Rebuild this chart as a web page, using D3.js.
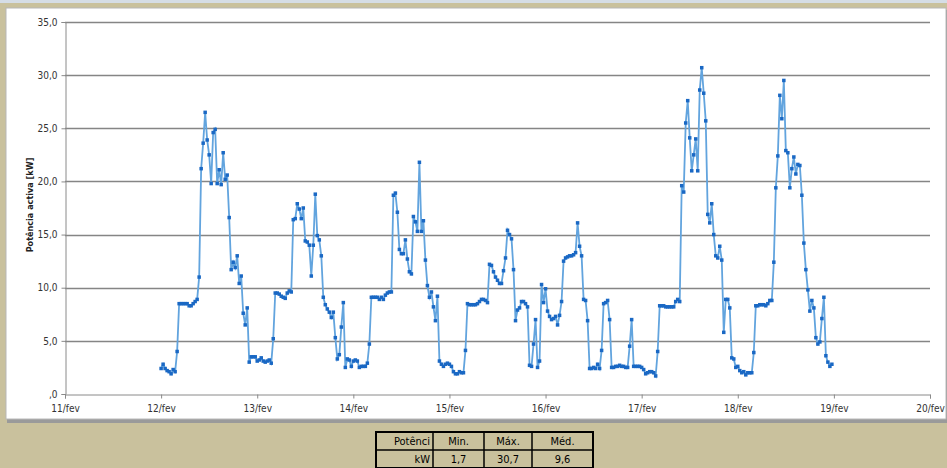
<!DOCTYPE html>
<html>
<head>
<meta charset="utf-8">
<script src="https://cdn.jsdelivr.net/npm/d3@7"></script>
<style>
  body { margin: 0; background: #c9c19d; overflow: hidden; }
  svg { display: block; }
</style>
</head>
<body>
<div id="chart-div"></div>
<script>
// readings every 30 min, one array per day (kW)
const day12 = [2.4,2.8,2.4,2.2,2.1,1.9,2.3,2.1,4.0,8.5,8.5,8.5,8.5,8.5,8.3,8.3,8.5,8.7,8.9,11.0,21.2,23.6,26.5,23.9,22.5,19.8,24.6,24.9,19.8,21.1,19.7,22.7,20.2,20.6,16.6,11.7,12.4,11.9,13.0,10.4,11.1,7.6,6.5,8.1,3.0,3.5,3.5,3.5]
const day13 = [3.1,3.2,3.4,3.1,3.0,3.1,3.2,2.9,5.2,9.5,9.5,9.4,9.2,9.1,9.0,9.5,9.7,9.6,16.4,16.5,17.9,17.4,16.5,17.5,14.4,14.3,14.0,11.1,14.0,18.8,14.9,14.5,13.0,9.1,8.4,8.0,7.7,7.2,7.7,5.3,3.3,3.7,6.3,8.6,2.5,3.3,3.2,2.6]
const day14 = [3.1,3.2,3.1,2.5,2.6,2.6,2.6,2.9,4.7,9.1,9.1,9.1,9.1,8.9,9.1,8.9,9.3,9.5,9.6,9.6,18.7,18.9,17.1,13.6,13.2,13.2,14.5,12.7,11.5,11.3,16.7,16.2,15.3,21.8,15.3,16.3,12.6,10.2,9.1,9.6,8.2,6.9,9.2,3.1,2.8,2.6,2.8,2.9]
const day15 = [2.8,2.6,2.1,1.9,1.9,2.1,2.0,2.0,4.1,8.5,8.4,8.4,8.4,8.4,8.5,8.7,8.9,8.9,8.8,8.6,12.2,12.1,11.5,11.0,10.7,10.4,10.4,11.6,12.8,15.4,15.0,14.6,11.7,6.9,7.9,8.1,8.7,8.7,8.5,8.2,2.7,2.6,4.7,7.0,2.5,3.1,10.3,8.6]
const day16 = [9.9,7.8,7.3,7.0,7.1,7.3,6.5,7.4,8.7,12.5,12.8,12.9,13.0,13.0,13.1,13.3,16.1,13.9,13.0,8.9,8.8,6.9,2.4,2.4,2.5,2.4,2.8,2.4,4.1,8.5,8.6,8.8,7.0,2.5,2.5,2.6,2.6,2.7,2.6,2.6,2.5,2.5,4.5,7.0,2.6,2.6,2.6,2.6]
const day17 = [2.5,2.3,1.9,2.0,2.1,2.1,2.0,1.7,4.0,8.3,8.3,8.3,8.2,8.2,8.2,8.2,8.2,8.7,8.9,8.7,19.6,19.0,25.5,27.6,24.1,21.0,22.5,24.0,21.0,28.6,30.7,28.3,25.7,16.9,16.1,17.9,15.0,13.0,12.8,13.9,12.6,5.8,8.9,8.9,8.1,3.4,3.3,2.5]
const day18 = [2.6,2.2,2.0,2.1,1.8,2.0,2.0,2.0,3.9,8.3,8.3,8.4,8.4,8.4,8.3,8.5,8.8,8.8,12.4,19.4,22.4,28.1,25.9,29.5,22.9,22.7,19.4,21.2,22.3,20.7,21.6,21.5,18.7,14.2,11.7,9.8,7.8,8.8,8.1,5.3,4.7,4.9,7.1,9.1,3.6,3.0,2.6,2.8]

const dayLabels = ["11/fev","12/fev","13/fev","14/fev","15/fev","16/fev","17/fev","18/fev","19/fev","20/fev"]
const yTicks = [0,5,10,15,20,25,30,35]

const tableHead = ["Potênci","Min.","Máx.","Méd."]
const tableRow = ["kW","1,7","30,7","9,6"]

class Chart{
    constructor(){
        this.WIDTH = 947
        this.HEIGHT = 468
        this.MARGIN_LEFT = 65
        this.MARGIN_RIGHT = 17
        this.MARGIN_TOP = 22
        this.PLOT_BOTTOM = 394

        this.svg = d3.select("#chart-div").append("svg")
            .attr("width", this.WIDTH)
            .attr("height", this.HEIGHT)

        // flatten days into (day offset, value) points, 11/fev = 0
        const days = [day12, day13, day14, day15, day16, day17, day18]
        this.points = []
        days.forEach((arr, d) => {
            arr.forEach((v, i) => this.points.push({t: 1 + d + i / arr.length, v: v}))
        })

        this.x_scale = d3.scaleLinear().domain([0, dayLabels.length - 1])
            .range([this.MARGIN_LEFT, this.WIDTH - this.MARGIN_RIGHT])
        this.y_scale = d3.scaleLinear().domain([0, 35])
            .range([this.PLOT_BOTTOM, this.MARGIN_TOP])

        this.drawFrame()
        this.drawAxes()
        this.drawLine()
        this.drawTable()
    }

    drawFrame(){
        this.svg.append("rect").attr("x", 0).attr("y", 0).attr("width", this.WIDTH).attr("height", 3)
            .attr("fill", "#d5dde6")
        // chart area with a little shadow underneath
        this.svg.append("rect").attr("x", 7).attr("y", 10).attr("width", 940).attr("height", 413)
            .attr("fill", "#9a9a9a")
        this.svg.append("rect").attr("x", 6).attr("y", 8).attr("width", 940).attr("height", 411)
            .attr("fill", "#ffffff").attr("stroke", "#b8b8b8")
    }

    drawAxes(){
        const that = this
        const grid = this.svg.append("g")
        grid.selectAll("line").data(yTicks.filter(d => d > 0)).enter().append("line")
            .attr("x1", this.MARGIN_LEFT).attr("x2", this.WIDTH - this.MARGIN_RIGHT)
            .attr("y1", d => Math.round(that.y_scale(d)) + 0.5)
            .attr("y2", d => Math.round(that.y_scale(d)) + 0.5)
            .attr("stroke", "#858585").attr("stroke-width", 1.3)

        const fmt = d => d == 0 ? ",0" : d3.format(".1f")(d).replace(".", ",")

        const yAxis = this.svg.append("g")
            .attr("transform", `translate(${this.MARGIN_LEFT + 0.5},0)`)
            .call(d3.axisLeft(this.y_scale).tickValues(yTicks).tickFormat(fmt).tickSize(4).tickPadding(4))
        yAxis.select(".domain").attr("stroke", "#8a8a8a")
        yAxis.selectAll(".tick line").attr("stroke", "#8a8a8a")
        yAxis.selectAll("text").attr("font-family", "DejaVu Sans Condensed, DejaVu Sans").attr("font-size", 10)
            .attr("fill", "#333")

        const xAxis = this.svg.append("g")
            .attr("transform", `translate(0,${this.PLOT_BOTTOM + 0.5})`)
            .call(d3.axisBottom(this.x_scale).tickValues(d3.range(dayLabels.length))
                .tickFormat(i => dayLabels[i]).tickSize(4).tickPadding(6))
        xAxis.select(".domain").attr("stroke", "#8a8a8a")
        xAxis.selectAll(".tick line").attr("stroke", "#8a8a8a")
        xAxis.selectAll("text").attr("font-family", "DejaVu Sans Condensed, DejaVu Sans").attr("font-size", 10)
            .attr("fill", "#333")

        this.svg.append("text")
            .attr("transform", `translate(33,${(this.MARGIN_TOP + this.PLOT_BOTTOM) / 2 - 3}) rotate(-90)`)
            .attr("text-anchor", "middle")
            .attr("font-family", "DejaVu Sans Condensed, DejaVu Sans").attr("font-size", 9).attr("font-weight", "bold")
            .attr("fill", "#222")
            .text("Potência activa [kW]")
    }

    drawLine(){
        const that = this
        const line = d3.line().x(d => that.x_scale(d.t)).y(d => that.y_scale(d.v))

        this.svg.append("path").datum(this.points)
            .attr("d", line)
            .attr("fill", "none")
            .attr("stroke", "#62a4de")
            .attr("stroke-width", 1.8)

        this.svg.append("g").selectAll("rect").data(this.points).enter().append("rect")
            .attr("x", d => that.x_scale(d.t) - 1.75)
            .attr("y", d => that.y_scale(d.v) - 1.75)
            .attr("width", 3.5).attr("height", 3.5)
            .attr("fill", "#1a68c4")
    }

    drawTable(){
        const colX = [376, 433, 484, 532, 593]
        const rowY = [432, 450, 468]
        const g = this.svg.append("g")
        g.append("rect").attr("x", colX[0]).attr("y", rowY[0])
            .attr("width", colX[4] - colX[0]).attr("height", rowY[2] - rowY[0])
            .attr("fill", "none").attr("stroke", "#000").attr("stroke-width", 2)
        colX.slice(1, 4).forEach(x => g.append("line").attr("x1", x).attr("x2", x)
            .attr("y1", rowY[0]).attr("y2", rowY[2]).attr("stroke", "#000").attr("stroke-width", 1.5))
        g.append("line").attr("x1", colX[0]).attr("x2", colX[4]).attr("y1", rowY[1]).attr("y2", rowY[1])
            .attr("stroke", "#000").attr("stroke-width", 1.5)

        const rows = [tableHead, tableRow]
        rows.forEach((row, r) => {
            row.forEach((txt, c) => {
                const left = colX[c], right = colX[c + 1]
                g.append("text")
                    .attr("x", c == 0 ? right - 3 : (left + right) / 2)
                    .attr("y", rowY[r] + 13)
                    .attr("text-anchor", c == 0 ? "end" : "middle")
                    .attr("font-family", "Liberation Sans Narrow, DejaVu Sans Condensed, sans-serif")
                    .attr("font-size", 11)
                    .attr("fill", "#000")
                    .text(txt)
            })
        })
    }
}

new Chart()
</script>
</body>
</html>
